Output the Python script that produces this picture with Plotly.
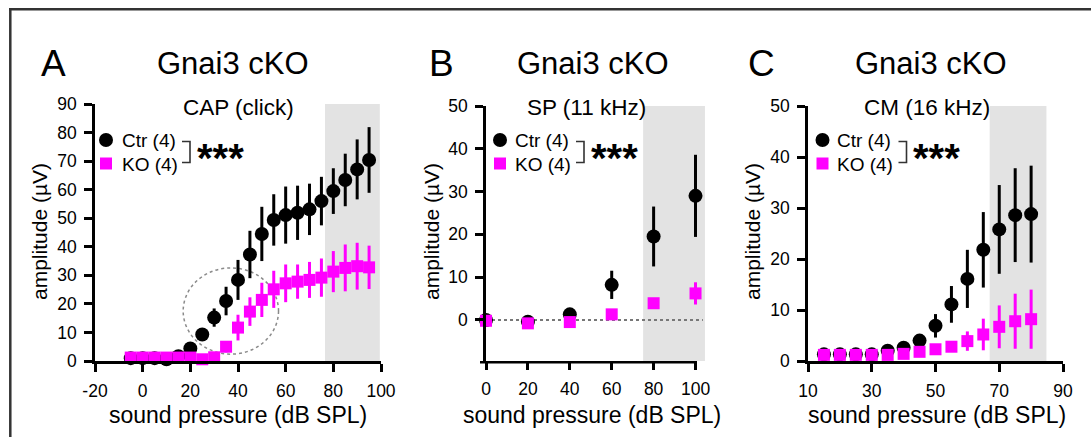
import plotly.graph_objects as go

W, H = 1091, 437


def px(x):
    return x / W


def py(y):
    return 1 - y / H


FONT = "Arial, 'Liberation Sans', Helvetica, sans-serif"
BLACK = "#000000"
MAG = "#ff00ff"
SHADE = "#e3e3e3"

# ---------------- data ----------------
# Panel A: CAP (click)
A_x = [-5, 0, 5, 10, 15, 20, 25, 30, 35, 40, 45, 50, 55, 60, 65, 70, 75, 80, 85, 90, 95]
A_ctr = [1.0, 1.0, 1.0, 0.6, 1.7, 4.4, 9.3, 15.2, 21.0, 28.4, 37.3, 44.5, 49.4, 51.1, 51.9, 53.1, 56.0, 59.5, 63.4, 67.1, 70.4]
A_ctr_err = [0.3, 0.3, 0.3, 0.3, 0.5, 1.0, 1.5, 3.2, 5.0, 7.0, 8.3, 9.5, 9.0, 10.0, 9.5, 9.0, 8.5, 8.0, 9.2, 10.5, 11.5]
A_ko = [1.2, 1.2, 1.2, 1.2, 1.2, 1.2, 0.6, 1.3, 5.0, 11.7, 17.3, 21.4, 25.1, 27.2, 27.8, 28.4, 29.2, 31.3, 32.6, 33.2, 32.8]
A_ko_err = [0.2, 0.2, 0.2, 0.2, 0.3, 0.3, 0.3, 0.5, 2.0, 4.5, 5.0, 6.0, 6.5, 6.6, 6.0, 6.3, 6.7, 7.2, 8.2, 8.2, 7.6]

# Panel B: SP (11 kHz)
B_x = [0, 20, 40, 60, 80, 100]
B_ctr = [0.0, -0.4, 1.3, 8.2, 19.5, 29.0]
B_ctr_err = [0.3, 0.3, 0.5, 3.3, 7.0, 9.6]
B_ko = [-0.2, -0.8, -0.5, 1.3, 3.9, 6.2]
B_ko_err = [0.2, 0.2, 0.3, 0.5, 0.7, 2.6]

# Panel C: CM (16 kHz)
C_x = [15, 20, 25, 30, 35, 40, 45, 50, 55, 60, 65, 70, 75, 80]
C_ctr = [1.3, 1.3, 1.3, 1.3, 2.0, 2.6, 4.0, 6.9, 11.1, 16.1, 21.8, 25.8, 28.6, 28.8]
C_ctr_err = [0.2, 0.2, 0.2, 0.2, 0.4, 0.5, 0.8, 2.3, 3.6, 5.7, 7.4, 8.7, 9.2, 9.5]
C_ko = [1.2, 1.2, 1.2, 1.2, 1.2, 1.4, 1.8, 2.3, 2.8, 3.9, 5.2, 6.7, 7.8, 8.2]
C_ko_err = [0.1, 0.1, 0.1, 0.1, 0.2, 0.3, 0.3, 0.4, 0.8, 1.9, 3.1, 4.2, 5.4, 5.8]

A_xticks = [-20, 0, 20, 40, 60, 80, 100]
A_xticklabels = ["-20", "0", "20", "40", "60", "80", "100"]
A_yticks = [0, 10, 20, 30, 40, 50, 60, 70, 80, 90]
B_xticks = [0, 20, 40, 60, 80, 100]
B_yticks = [0, 10, 20, 30, 40, 50]
C_xticks = [10, 30, 50, 70, 90]
C_yticks = [0, 10, 20, 30, 40, 50]

panel_letters = ["A", "B", "C"]
panel_title = "Gnai3 cKO"
panel_subtitles = ["CAP (click)", "SP (11 kHz)", "CM (16 kHz)"]
series_names = ["Ctr (4)", "KO (4)"]
signif = "***"
x_title = "sound pressure (dB SPL)"
y_title = "amplitude (µV)"

# ---------------- figure ----------------
fig = go.Figure()

panels = [
    (A_x, A_ctr, A_ctr_err, A_ko, A_ko_err, "x", "y"),
    (B_x, B_ctr, B_ctr_err, B_ko, B_ko_err, "x2", "y2"),
    (C_x, C_ctr, C_ctr_err, C_ko, C_ko_err, "x3", "y3"),
]
for xs, ctr, ctr_e, ko, ko_e, xa, ya in panels:
    fig.add_trace(go.Scatter(
        x=xs, y=ctr, mode="markers", name=series_names[0],
        marker=dict(symbol="circle", size=14, color=BLACK, line=dict(width=0)),
        error_y=dict(type="data", array=ctr_e, visible=True, color=BLACK, thickness=3, width=0),
        xaxis=xa, yaxis=ya, cliponaxis=False, showlegend=False))
    fig.add_trace(go.Scatter(
        x=xs, y=ko, mode="markers", name=series_names[1],
        marker=dict(symbol="square", size=12, color=MAG, line=dict(width=0)),
        error_y=dict(type="data", array=ko_e, visible=True, color=MAG, thickness=3, width=0),
        xaxis=xa, yaxis=ya, cliponaxis=False, showlegend=False))

axis_common = dict(
    showgrid=False, zeroline=False, showline=True, linecolor=BLACK, linewidth=2.5,
    ticks="outside", ticklen=8, tickwidth=2.5, tickcolor=BLACK, automargin=False,
    tickfont=dict(family=FONT, size=17.5, color=BLACK), ticklabelstandoff=4,
)

fig.update_layout(
    width=W, height=H, autosize=False,
    margin=dict(l=0, r=0, t=0, b=0, pad=0, autoexpand=False),
    paper_bgcolor="white", plot_bgcolor="white",
    showlegend=False,
    xaxis=dict(axis_common, domain=[px(95), px(381)], range=[-20, 100], tickvals=A_xticks,
               ticktext=A_xticklabels, anchor="y"),
    yaxis=dict(axis_common, domain=[py(361), py(104)], range=[0, 90], tickvals=A_yticks, anchor="x"),
    xaxis2=dict(axis_common, domain=[px(486), px(706)], range=[0, 105], tickvals=B_xticks, anchor="y2",
                showline=False),
    yaxis2=dict(axis_common, domain=[py(361), py(106)], range=[-9.6, 50], tickvals=B_yticks, anchor="x2"),
    xaxis3=dict(axis_common, domain=[px(808), px(1063)], range=[10, 90], tickvals=C_xticks, anchor="y3"),
    yaxis3=dict(axis_common, domain=[py(361), py(106)], range=[0, 50], tickvals=C_yticks, anchor="x3"),
)

shapes = []
# shaded high-level regions
shapes.append(dict(type="rect", xref="x", yref="y", x0=76.5, x1=99.5, y0=0, y1=90,
                   fillcolor=SHADE, line=dict(width=0), layer="below"))
shapes.append(dict(type="rect", xref="x2", yref="y2", x0=75, x1=104.5, y0=-9.6, y1=50,
                   fillcolor=SHADE, line=dict(width=0), layer="below"))
shapes.append(dict(type="rect", xref="x3", yref="y3", x0=67, x1=84.8, y0=0, y1=50,
                   fillcolor=SHADE, line=dict(width=0), layer="below"))
# dotted circle in A
shapes.append(dict(type="circle", xref="x", yref="y", x0=17, x1=57, y0=2.4, y1=32.6,
                   line=dict(color="#8a8a8a", width=1.5, dash="dot"), layer="below"))
# dotted zero line in B
shapes.append(dict(type="line", xref="x2", yref="y2", x0=0, x1=103.5, y0=0, y1=0,
                   line=dict(color="#777777", width=2, dash="dot"), layer="below"))
# x-axis line of B (shorter than shaded area)
shapes.append(dict(type="line", xref="paper", yref="paper", x0=px(480), x1=px(697),
                   y0=py(362.2), y1=py(362.2), line=dict(color=BLACK, width=2.5)))
# figure frame (top & left)
shapes.append(dict(type="line", xref="paper", yref="paper", x0=px(9), x1=1, y0=py(9.3), y1=py(9.3),
                   line=dict(color="#333333", width=2.5)))
shapes.append(dict(type="line", xref="paper", yref="paper", x0=px(10.3), x1=px(10.3), y0=py(8), y1=0,
                   line=dict(color="#333333", width=2.5)))

annotations = []


def ann(text, x, y, size, xanchor="center", yanchor="middle", textangle=0, bold=False, color=BLACK):
    annotations.append(dict(
        text=("<b>%s</b>" % text) if bold else text,
        x=px(x), y=py(y), xref="paper", yref="paper", showarrow=False,
        xanchor=xanchor, yanchor=yanchor, textangle=textangle,
        font=dict(family=FONT, size=size, color=color)))


# legend & bracket geometry per panel (pixel positions)
legend_pos = [
    dict(sym=106, txt=120, br=190, star=220),
    dict(sym=500, txt=513, br=584, star=614),
    dict(sym=822.5, txt=835, br=906.5, star=936),
]
letter_x = [53.7, 441.7, 761.7]
title_x = [232.5, 593.3, 930.8]
sub_x = [238.3, 586, 927]
ytitle_x = [40, 432, 753]
xtitle_x = [238, 592, 937]

for i in range(3):
    ann(panel_letters[i], letter_x[i], 64, 37)
    ann(panel_title, title_x[i], 64, 31)
    ann(panel_subtitles[i], sub_x[i], 108, 22.5)
    ann(y_title, ytitle_x[i], 232, 21, textangle=-90)
    ann(x_title, xtitle_x[i], 415, 23)
    lp = legend_pos[i]
    # legend symbols
    shapes.append(dict(type="circle", xref="paper", yref="paper", xsizemode="pixel", ysizemode="pixel",
                       xanchor=px(lp["sym"]), yanchor=py(140), x0=-7, x1=7, y0=-7, y1=7,
                       fillcolor=BLACK, line=dict(width=0)))
    shapes.append(dict(type="rect", xref="paper", yref="paper", xsizemode="pixel", ysizemode="pixel",
                       xanchor=px(lp["sym"]), yanchor=py(163.5), x0=-6, x1=6, y0=-6, y1=6,
                       fillcolor=MAG, line=dict(width=0)))
    ann(series_names[0], lp["txt"], 140, 19, xanchor="left")
    ann(series_names[1], lp["txt"], 164.5, 19, xanchor="left")
    # bracket
    b = lp["br"]
    shapes.append(dict(type="path", xref="paper", yref="paper",
                       path="M %f,%f L %f,%f L %f,%f L %f,%f" % (
                           px(b - 8), py(141.5), px(b), py(141.5), px(b), py(162.5), px(b - 8), py(162.5)),
                       line=dict(color="#333333", width=1.6)))
    ann(signif, lp["star"], 158, 40, bold=True)

fig.update_layout(shapes=shapes, annotations=annotations)
fig.write_html("out.html", config={"displayModeBar": False},
               post_script="document.body.style.margin='0';document.body.style.overflow='hidden';")
